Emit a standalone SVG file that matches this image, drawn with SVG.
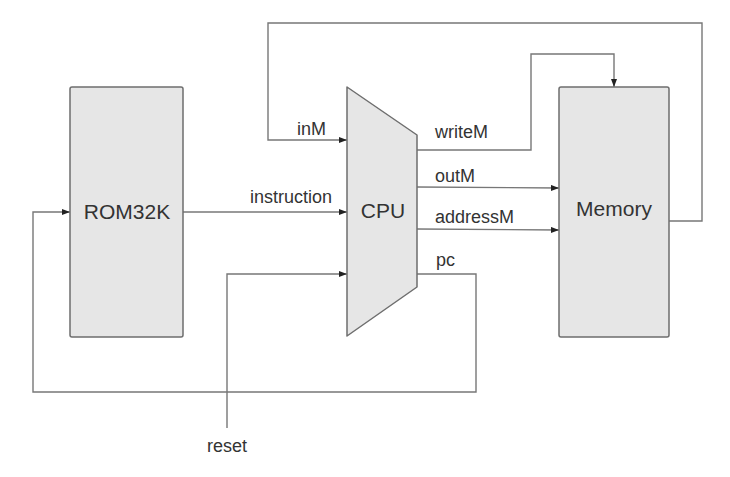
<svg xmlns="http://www.w3.org/2000/svg" width="730" height="477" viewBox="0 0 730 477">
<defs>
<marker id="arr" viewBox="0 0 8 6" refX="8" refY="3" markerWidth="8" markerHeight="6" markerUnits="userSpaceOnUse" orient="auto">
<path d="M0,0 L8,3 L0,6 Z" fill="#222"/>
</marker>
<style>
.box{fill:#e6e6e6;stroke:#6e6e6e;stroke-width:1.5}
.wire{fill:none;stroke:#777;stroke-width:1.4}
.lbl{font-family:"Liberation Sans",Arial,sans-serif;font-size:18px;fill:#333}
.big{font-family:"Liberation Sans",Arial,sans-serif;font-size:21px;fill:#333;text-anchor:middle}
</style>
</defs>
<rect width="730" height="477" fill="#ffffff"/>
<g id="connectors">
<path class="wire" d="M669,221 H702 V23 H268 V140 H347" marker-end="url(#arr)"/>
<path class="wire" d="M417,150 H531 V54 H614 V87" marker-end="url(#arr)"/>
<path class="wire" d="M417,187 L559,188" marker-end="url(#arr)"/>
<path class="wire" d="M417,229 L559,230" marker-end="url(#arr)"/>
<path class="wire" d="M183,212 H347" marker-end="url(#arr)"/>
<path class="wire" d="M417,274 H476 V392 H33 V212 H70" marker-end="url(#arr)"/>
<path class="wire" d="M227,428 V274 H347" marker-end="url(#arr)"/>
</g>
<g id="rom">
<rect class="box" x="70" y="87" width="113" height="250" rx="2"/>
<text class="big" x="127" y="219">ROM32K</text>
</g>
<g id="cpu">
<path class="box" d="M347,87 L417,135 L417,287 L347,336 Z" stroke-linejoin="round"/>
<text class="big" x="383" y="218" font-size="22">CPU</text>
</g>
<g id="memory">
<rect class="box" x="559" y="87" width="110" height="250" rx="2"/>
<text class="big" x="614" y="216">Memory</text>
</g>
<g id="labels">
<text class="lbl" x="297" y="135">inM</text>
<text class="lbl" x="250" y="203">instruction</text>
<text class="lbl" x="435" y="138">writeM</text>
<text class="lbl" x="435" y="182">outM</text>
<text class="lbl" x="435" y="223">addressM</text>
<text class="lbl" x="436" y="266">pc</text>
<text class="lbl" x="227" y="452" text-anchor="middle">reset</text>
</g>
</svg>
